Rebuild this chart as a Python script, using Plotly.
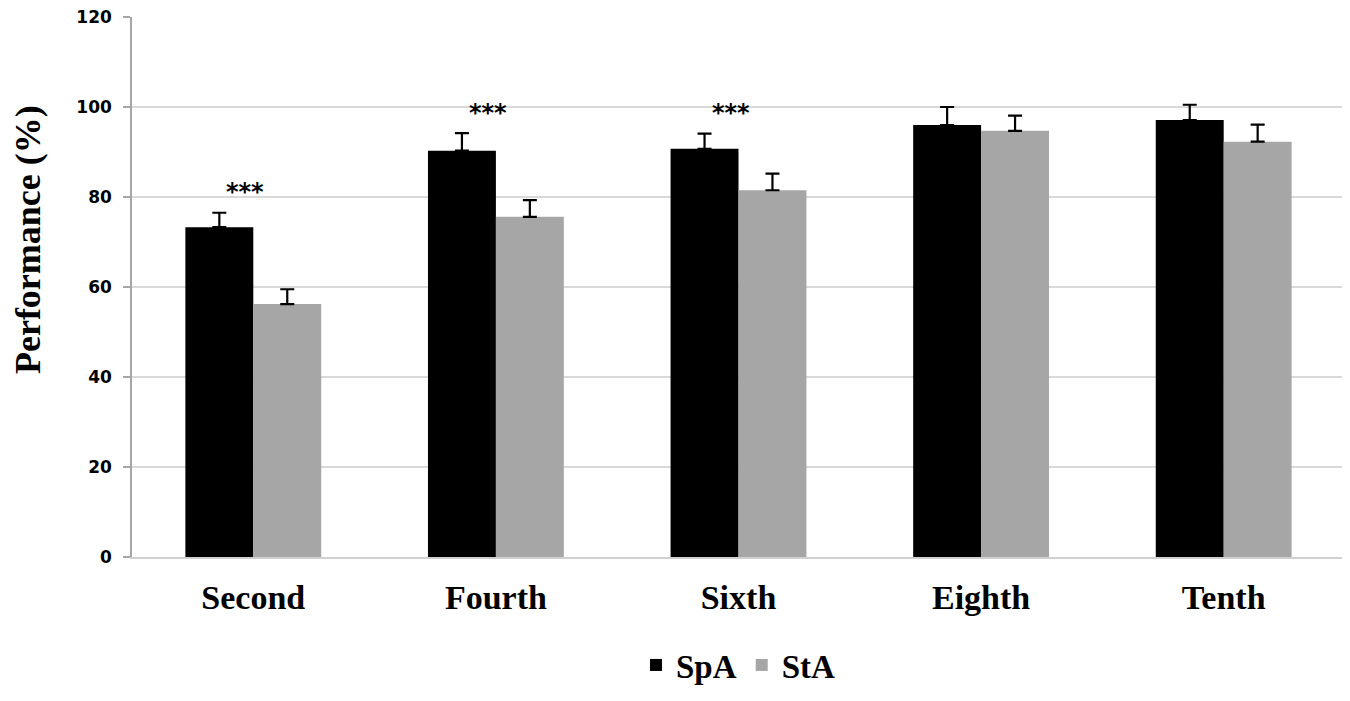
import plotly.graph_objects as go

categories = ["Second", "Fourth", "Sixth", "Eighth", "Tenth"]
spa_values = [73.3, 90.3, 90.7, 96.0, 97.1]
spa_errors = [3.2, 3.9, 3.4, 4.0, 3.4]
sta_values = [56.2, 75.6, 81.5, 94.7, 92.3]
sta_errors = [3.3, 3.7, 3.7, 3.4, 3.8]
significance = ["***", "***", "***", "", ""]
y_ticks = [0, 20, 40, 60, 80, 100, 120]
y_title = "Performance (%)"

serif = "Liberation Serif"
sans = "DejaVu Sans"

fig = go.Figure()
fig.add_trace(go.Bar(
    name="SpA", x=categories, y=spa_values, marker_color="#000000",
    marker_line_width=0,
    error_y=dict(type="data", array=spa_errors, arrayminus=[0] * len(spa_errors),
                 symmetric=False, color="#000000", thickness=2.2, width=7),
))
fig.add_trace(go.Bar(
    name="StA", x=categories, y=sta_values, marker_color="#a6a6a6",
    marker_line_width=0,
    error_y=dict(type="data", array=sta_errors, arrayminus=[0] * len(sta_errors),
                 symmetric=False, color="#000000", thickness=2.2, width=7),
))

for cat, v, e, s in zip(categories, spa_values, spa_errors, significance):
    if s:
        fig.add_annotation(
            x=cat, y=v + e + 1.0, text=s, showarrow=False, xshift=-8,
            yanchor="bottom",
            font=dict(family=sans, size=24, color="#000000", weight="bold"),
        )

fig.add_annotation(
    xref="paper", yref="paper", x=-0.0857, y=0.587, text=y_title,
    textangle=-90, showarrow=False, xanchor="center", yanchor="middle",
    font=dict(family=serif, size=36, color="#000000", weight="bold"),
)

fig.update_layout(
    width=1342, height=693,
    paper_bgcolor="white", plot_bgcolor="white",
    margin=dict(l=124, r=5, t=9, b=144),
    barmode="group", bargap=0.44, bargroupgap=0,
    showlegend=True,
    legend=dict(orientation="h", x=0.5, xanchor="center", y=-0.2, yanchor="middle",
                font=dict(family=serif, size=33, color="#000000", weight="bold"),
                traceorder="normal"),
    xaxis=dict(
        tickfont=dict(family=serif, size=34, color="#000000", weight="bold"),
        showline=True, linecolor="#d0d0d0", linewidth=1.5,
        ticks="", showgrid=False, automargin=False, ticklabelstandoff=9,
    ),
    yaxis=dict(
        range=[0, 120], tickvals=y_ticks, ticktext=[str(t) for t in y_ticks],
        tickfont=dict(family=sans, size=17, color="#000000", weight="bold"),
        showline=True, linecolor="#a6a6a6", linewidth=1.5,
        ticks="outside", ticklen=7, tickcolor="#a6a6a6", tickwidth=1.5,
        ticklabelstandoff=8, ticklabeloverflow="allow",
        showgrid=True, gridcolor="#d9d9d9", gridwidth=1.5,
        zeroline=False, automargin=False,
    ),
)

fig.write_html("out.html")
